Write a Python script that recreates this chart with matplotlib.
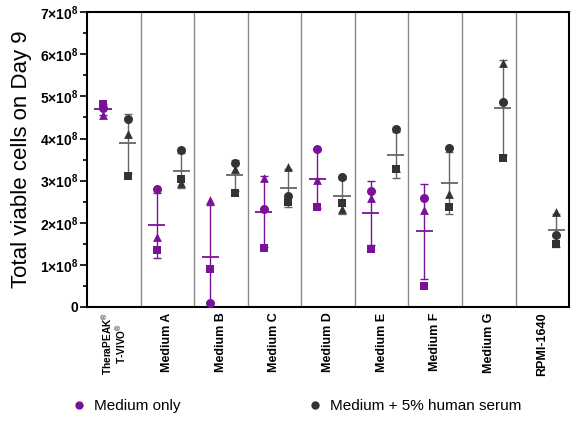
import numpy as np
import matplotlib
matplotlib.use('Agg')
import matplotlib.pyplot as plt
from matplotlib.lines import Line2D
from matplotlib.ticker import MultipleLocator, FuncFormatter

plt.rcParams['font.family'] = ['Liberation Sans', 'DejaVu Sans']
plt.rcParams['mathtext.fontset'] = 'custom'
plt.rcParams['mathtext.rm'] = 'Liberation Sans'
plt.rcParams['mathtext.bf'] = 'Liberation Sans:bold'

media = ['TheraPEAK$^{\\circledR}$\nT-VIVO$^{\\circledR}$', 'Medium A', 'Medium B',
         'Medium C', 'Medium D', 'Medium E', 'Medium F', 'Medium G', 'RPMI-1640']

nan = np.nan
# replicate values (x1e8): square, circle, triangle donors
only_sq = [4.82, 1.36, 0.91, 1.40, 2.38, 1.37, 0.50, nan, nan]
only_ci = [4.72, 2.81, 0.10, 2.33, 3.75, 2.76, 2.59, nan, nan]
only_tr = [4.56, 1.65, 2.54, 3.07, 3.01, 2.58, 2.30, nan, nan]
serum_sq = [3.11, 3.04, 2.71, 2.49, 2.47, 3.27, 2.38, 3.54, 1.49]
serum_ci = [4.46, 3.73, 3.41, 2.64, 3.09, 4.23, 3.77, 4.87, 1.71]
serum_tr = [4.11, 2.95, 3.27, 3.33, 2.32, 3.30, 2.68, 5.79, 2.26]

purple = '#7a1199'
dark = '#333333'
bar_grey = '#666666'

fig = plt.figure(figsize=(5.76, 4.36), dpi=100)
ax = fig.add_axes([0.151, 0.296, 0.837, 0.676])

centers = np.arange(len(media)) + 0.5


def draw_group(xs, sq, ci, tr, mcol, bcol):
    vals = np.array([sq, ci, tr]) * 1e8
    for i, x in enumerate(xs):
        v = vals[:, i]
        if np.isnan(v).all():
            continue
        m = v.mean()
        sd = v.std(ddof=1)
        ax.errorbar(x, m, yerr=sd, fmt='none', ecolor=bcol, elinewidth=1,
                    capsize=3, capthick=1, zorder=2)
        ax.hlines(m, x - 0.16, x + 0.16, colors=bcol, lw=1.3, zorder=2)
    ax.scatter(xs, vals[0], marker='s', s=40, color=mcol, zorder=3, linewidths=0)
    ax.scatter(xs, vals[1], marker='o', s=42, color=mcol, zorder=3, linewidths=0)
    ax.scatter(xs, vals[2], marker='^', s=40, color=mcol, zorder=3, linewidths=0)


draw_group(centers - 0.2, only_sq, only_ci, only_tr, purple, purple)
draw_group(centers + 0.26, serum_sq, serum_ci, serum_tr, dark, bar_grey)

for b in range(1, len(media)):
    ax.axvline(b, color='#8a8a8a', lw=1, zorder=1)

ax.set_xlim(0, len(media))
ax.set_ylim(0, 7e8)
ax.yaxis.set_major_locator(MultipleLocator(1e8))
ax.yaxis.set_minor_locator(MultipleLocator(0.5e8))


def fmt(v, pos):
    n = int(round(v / 1e8))
    if n == 0:
        return r'$\mathbf{0}$'
    return r'$\mathbf{%d{\times}10^{8}}$' % n


ax.yaxis.set_major_formatter(FuncFormatter(fmt))
ax.tick_params(axis='y', which='major', length=5, width=1.2, labelsize=10, pad=1)
ax.tick_params(axis='y', which='minor', length=3, width=1.2)
ax.set_xticks(centers)
ax.set_xticklabels(media, rotation=90, fontsize=9, fontweight='bold', va='top',
                   ha='center', linespacing=1.0)
ax.get_xticklabels()[0].set_fontsize(7.3)
ax.tick_params(axis='x', length=0, pad=4)
for s in ax.spines.values():
    s.set_linewidth(1.5)

ax.set_ylabel('Total viable cells on Day 9', fontsize=16, labelpad=6)

handles = [Line2D([], [], marker='o', ls='none', color=purple, markersize=5),
           Line2D([], [], marker='o', ls='none', color=dark, markersize=5)]
fig.legend(handles, ['Medium only', 'Medium + 5% human serum'], ncol=2,
           loc='center left', bbox_to_anchor=(0.1, 0.068), frameon=False,
           fontsize=11, handletextpad=0.5, columnspacing=8.3, handlelength=1)

fig.savefig('out.png', dpi=100)
